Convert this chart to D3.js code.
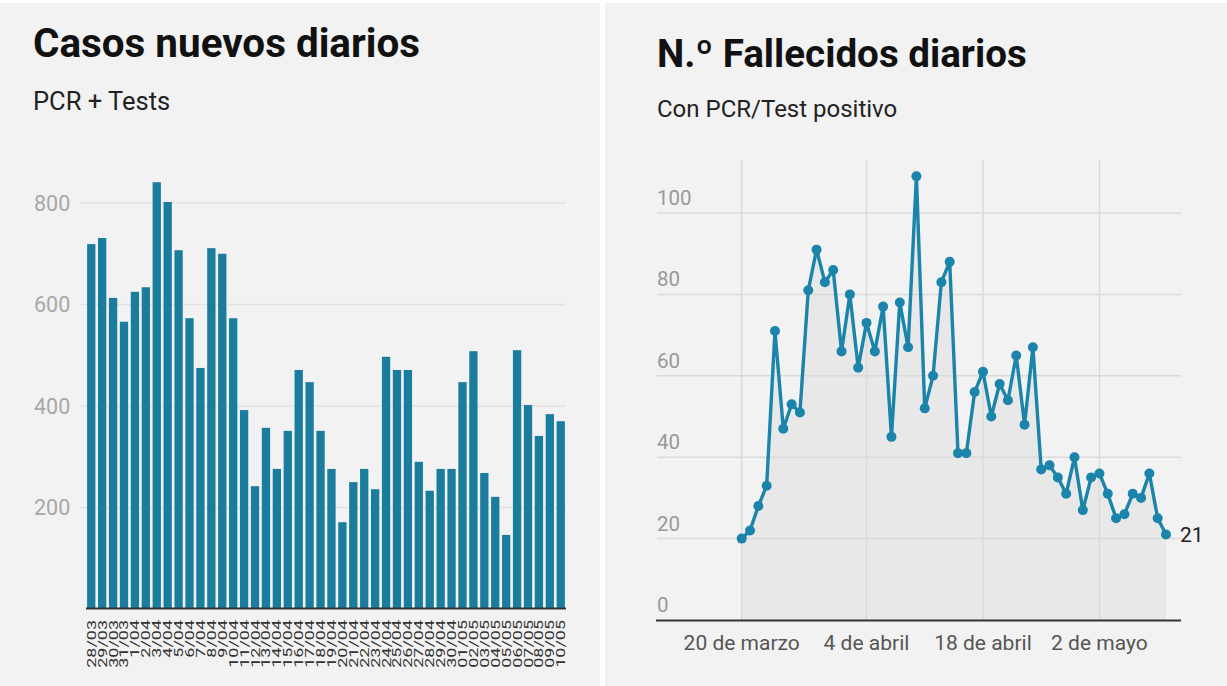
<!DOCTYPE html>
<html>
<head>
<meta charset="utf-8">
<script src="https://cdn.jsdelivr.net/npm/d3@7"></script>
<style>
  body { margin: 0; background: #fff; font-family: Roboto, "Noto Sans", sans-serif; }
  svg { display: block; }
</style>
</head>
<body>
<svg id="chart" width="1227" height="686"></svg>
<script>
// Casos nuevos diarios (PCR + Tests)
const casosLabels = [
  "28/03", "29/03", "30/03", "31/03",
  "1/04", "2/04", "3/04", "4/04", "5/04", "6/04", "7/04", "8/04", "9/04", "10/04",
  "11/04", "12/04", "13/04", "14/04", "15/04", "16/04", "17/04", "18/04", "19/04", "20/04",
  "21/04", "22/04", "23/04", "24/04", "25/04", "26/04", "27/04", "28/04", "29/04", "30/04",
  "01/05", "02/05", "03/05", "04/05", "05/05", "06/05", "07/05", "08/05", "09/05", "10/05"
];
const casosValues = [
  719, 731, 613, 566,
  625, 634, 841, 802, 707, 573, 475, 711, 700, 573,
  392, 242, 357, 276, 351, 471, 447, 351, 276, 171,
  250, 276, 236, 497, 471, 471, 290, 233, 276, 276,
  447, 508, 268, 221, 146, 510, 402, 341, 384, 370
];
const casosTicks = [200, 400, 600, 800];

// Fallecidos diarios, del 20 de marzo al 10 de mayo
const fallStart = "2020-03-20";
const fallValues = [
  20, 22, 28, 33, 71, 47, 53, 51, 81, 91, 83, 86,
  66, 80, 62, 73, 66, 77, 45, 78, 67, 109, 52, 60,
  83, 88, 41, 41, 56, 61, 50, 58, 54, 65, 48, 67,
  37, 38, 35, 31, 40, 27, 35, 36, 31, 25, 26, 31,
  30, 36, 25, 21
];
const fallTicks = [0, 20, 40, 60, 80, 100];
const fallDateTicks = ["2020-03-20", "2020-04-04", "2020-04-18", "2020-05-02"];
const fallDateLabels = ["20 de marzo", "4 de abril", "18 de abril", "2 de mayo"];

const svg = d3.select("#chart");
const parse = d3.utcParse("%Y-%m-%d");

// paneles
svg.append("rect").attr("x", 0).attr("y", 3).attr("width", 600).attr("height", 683).attr("fill", "#f2f2f2");
svg.append("rect").attr("x", 605).attr("y", 3).attr("width", 622).attr("height", 683).attr("fill", "#f2f2f2");

// ---------- izquierda: barras ----------
const left = svg.append("g");

left.append("text").attr("x", 33).attr("y", 57)
  .attr("font-size", 40.4).attr("font-weight", 700).attr("fill", "#111")
  .text("Casos nuevos diarios");
left.append("text").attr("x", 33).attr("y", 110)
  .attr("font-size", 25.5).attr("fill", "#222")
  .text("PCR + Tests");

const xBar = d3.scaleBand()
  .domain(casosLabels)
  .range([86, 566])
  .paddingInner(0.24)
  .paddingOuter(0.1);

const yBar = d3.scaleLinear()
  .domain([0, 800])
  .range([609, 203]);

left.selectAll(".grid")
  .data(casosTicks)
  .enter().append("line")
  .attr("x1", 80).attr("x2", 566)
  .attr("y1", d => yBar(d)).attr("y2", d => yBar(d))
  .attr("stroke", "#e2e2e2").attr("stroke-width", 1.5);

left.selectAll(".ylab")
  .data(casosTicks)
  .enter().append("text")
  .attr("x", 34).attr("y", d => yBar(d))
  .attr("dy", "0.35em")
  .attr("font-size", 21.5).attr("fill", "#a8a8a8")
  .text(d => d);

left.selectAll(".bar")
  .data(casosValues)
  .enter().append("rect")
  .attr("x", (d, i) => xBar(casosLabels[i]))
  .attr("y", d => yBar(d))
  .attr("width", xBar.bandwidth())
  .attr("height", d => yBar(0) - yBar(d))
  .attr("fill", "#1b7d9e");

left.append("line")
  .attr("x1", 86).attr("x2", 566)
  .attr("y1", 608.5).attr("y2", 608.5)
  .attr("stroke", "#333").attr("stroke-width", 2);

// etiquetas verticales, algo estiradas como en el original
left.selectAll(".xlab")
  .data(casosLabels)
  .enter().append("text")
  .attr("transform", d => `translate(${xBar(d) + xBar.bandwidth() / 2 + 4.5},620) rotate(-90) scale(1.38,1)`)
  .attr("text-anchor", "end")
  .attr("font-size", 13).attr("fill", "#333")
  .text(d => d);

// ---------- derecha: línea ----------
const right = svg.append("g");

right.append("text").attr("x", 657).attr("y", 67)
  .attr("font-size", 38.6).attr("font-weight", 700).attr("fill", "#111")
  .text("N.º Fallecidos diarios");
right.append("text").attr("x", 657).attr("y", 117)
  .attr("font-size", 24).attr("fill", "#222")
  .text("Con PCR/Test positivo");

const start = parse(fallStart);
const fallData = fallValues.map((v, i) => ({ date: d3.utcDay.offset(start, i), value: v }));

const xLine = d3.scaleUtc()
  .domain([start, fallData[fallData.length - 1].date])
  .range([741.7, 1166]);

const yLine = d3.scaleLinear()
  .domain([0, 100])
  .range([620, 213]);

const area = d3.area()
  .x(d => xLine(d.date))
  .y0(yLine(0))
  .y1(d => yLine(d.value));

right.append("path")
  .datum(fallData)
  .attr("d", area)
  .attr("fill", "#e8e8e8");

right.selectAll(".hgrid")
  .data(fallTicks.filter(d => d > 0))
  .enter().append("line")
  .attr("x1", 657).attr("x2", 1181)
  .attr("y1", d => yLine(d)).attr("y2", d => yLine(d))
  .attr("stroke", "#dadada").attr("stroke-width", 1.5);

right.selectAll(".vgrid")
  .data(fallDateTicks)
  .enter().append("line")
  .attr("x1", d => xLine(parse(d))).attr("x2", d => xLine(parse(d)))
  .attr("y1", 160).attr("y2", 620)
  .attr("stroke", "#dadada").attr("stroke-width", 1.5);

right.selectAll(".ylab")
  .data(fallTicks)
  .enter().append("text")
  .attr("x", 657).attr("y", d => yLine(d) - 8)
  .attr("font-size", 20.5).attr("fill", "#999")
  .text(d => d);

right.append("line")
  .attr("x1", 656).attr("x2", 1181)
  .attr("y1", 620.5).attr("y2", 620.5)
  .attr("stroke", "#333").attr("stroke-width", 2);

right.selectAll(".xlab")
  .data(fallDateTicks)
  .enter().append("text")
  .attr("x", d => xLine(parse(d))).attr("y", 650)
  .attr("text-anchor", "middle")
  .attr("font-size", 21).attr("fill", "#555")
  .text((d, i) => fallDateLabels[i]);

const line = d3.line()
  .x(d => xLine(d.date))
  .y(d => yLine(d.value));

right.append("path")
  .datum(fallData)
  .attr("d", line)
  .attr("fill", "none")
  .attr("stroke", "#1a84aa")
  .attr("stroke-width", 3.4)
  .attr("stroke-linejoin", "round");

right.selectAll(".dot")
  .data(fallData)
  .enter().append("circle")
  .attr("cx", d => xLine(d.date))
  .attr("cy", d => yLine(d.value))
  .attr("r", 5)
  .attr("fill", "#1a84aa");

const last = fallData[fallData.length - 1];
right.append("text")
  .attr("x", xLine(last.date) + 14).attr("y", yLine(last.value))
  .attr("dy", "0.35em")
  .attr("font-size", 21).attr("fill", "#222")
  .text(last.value);
</script>
</body>
</html>
